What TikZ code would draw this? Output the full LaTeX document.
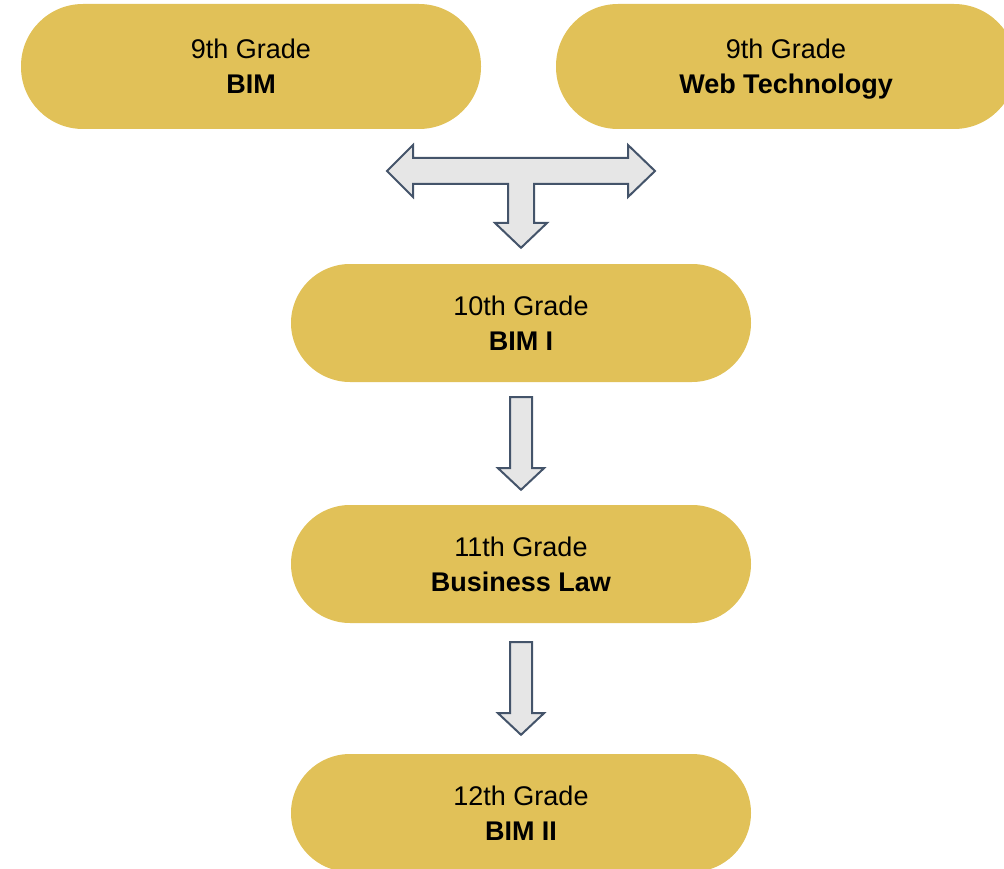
\documentclass[tikz,border=0pt]{standalone}
\usepackage{fontspec}
\setmainfont{Liberation Sans}
\usetikzlibrary{calc}
\definecolor{pillyellow}{HTML}{E1C158}
\definecolor{arrowfill}{HTML}{E6E6E6}
\definecolor{arrowline}{HTML}{44546A}
\newcommand{\topstrut}{\rule{0pt}{25.4pt}}
\newcommand{\botstrut}{\rule[-5.7pt]{0pt}{5.7pt}}
\tikzset{
  pill/.style={fill=pillyellow, draw=none, rounded corners=59pt, minimum width=460pt,
    align=center, font=\fontsize{27}{35}\selectfont, inner sep=0pt},
  tallpill/.style={pill, minimum height=125pt, rounded corners=62pt},
  shortpill/.style={pill, minimum height=118pt},
  blockarrow/.style={fill=arrowfill, draw=arrowline, line width=2pt, line join=miter}
}
\begin{document}
\begin{tikzpicture}[x=1pt,y=-1pt]
\useasboundingbox (0,0) rectangle (1004,869);
\node[tallpill] (g9a) at (251,66.5) {\topstrut 9th Grade\\\textbf{BIM}\botstrut};
\node[tallpill] (g9b) at (786,66.5) {\topstrut 9th Grade\\\textbf{Web Technology}\botstrut};
\node[shortpill] (g10) at (521,323) {\topstrut 10th Grade\\\textbf{BIM I}\botstrut};
\node[shortpill] (g11) at (521,564) {\topstrut 11th Grade\\\textbf{Business Law}\botstrut};
\node[shortpill] (g12) at (521,813) {\topstrut 12th Grade\\\textbf{BIM II}\botstrut};
% T-shaped arrow
\coordinate (tl) at (387,171);
\coordinate (tr) at (655,171);
\coordinate (tb) at (g10.north);
\draw[blockarrow] (tl) -- (413,145) -- (413,158) -- (628,158) -- (628,145) -- (tr)
  -- (628,197) -- (628,184) -- (534,184) -- (534,223) -- (547,223)
  -- ($(tb)+(0,-16)$) -- (495,223) -- (508,223) -- (508,184) -- (413,184) -- (413,197) -- cycle;
% down arrows
\draw[blockarrow] ($(g10.south)+(-11,15)$) -- ++(22,0) -- ++(0,71) -- ++(12,0)
  -- ($(g11.north)+(0,-15)$) -- ($(g10.south)+(-23,86)$) -- ++(12,0) -- cycle;
\draw[blockarrow] ($(g11.south)+(-11,19)$) -- ++(22,0) -- ++(0,71) -- ++(12,0)
  -- ($(g12.north)+(0,-19)$) -- ($(g11.south)+(-23,90)$) -- ++(12,0) -- cycle;
\end{tikzpicture}
\end{document}
